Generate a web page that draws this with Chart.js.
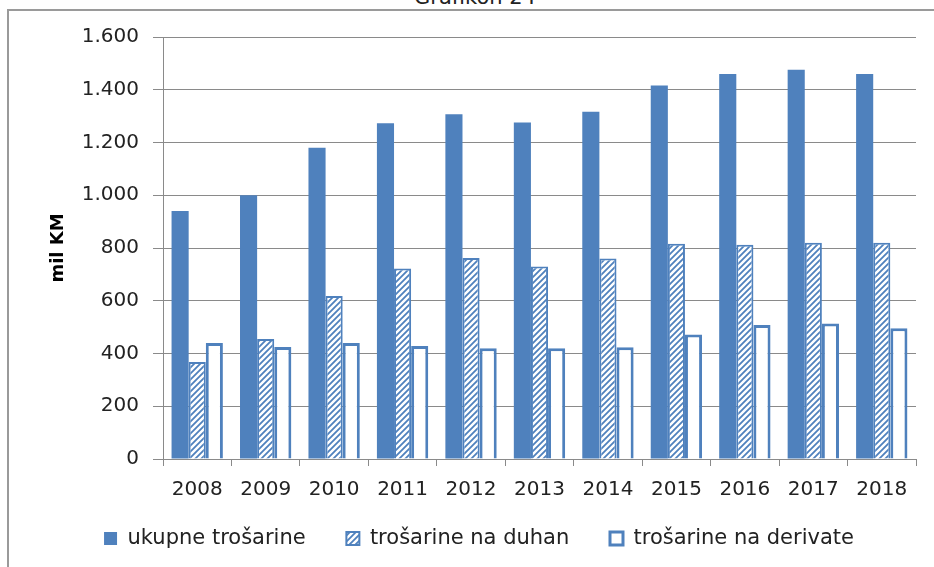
<!DOCTYPE html>
<html>
<head>
<meta charset="utf-8">
<script src="https://cdn.jsdelivr.net/npm/chart.js@4"></script>
<style>
  html, body { margin: 0; padding: 0; background: #fff; }
  #wrap { position: relative; width: 934px; height: 567px; overflow: hidden; }
  #naslov { position: absolute; left: 8px; width: 934px; top: -15px; text-align: center;
            font: 21px "DejaVu Sans", sans-serif; color: #222; }
  #okvir { position: absolute; left: 7px; top: 9px; width: 940px; height: 570px;
           border-top: 2px solid #9a9a9a; border-left: 2px solid #9a9a9a; }
  canvas { position: absolute; left: 0; top: 0; }
</style>
</head>
<body>
<div id="wrap">
  <div id="naslov">Grafikon 24</div>
  <div id="okvir"></div>
  <canvas id="grafikTrosarine" width="934" height="567"></canvas>
</div>
<script>
const godine = ["2008", "2009", "2010", "2011", "2012", "2013", "2014", "2015", "2016", "2017", "2018"];
const ukupneTrosarine = [940, 1000, 1180, 1273, 1307, 1276, 1317, 1416, 1460, 1476, 1460];
const trosarineDuhan = [368, 455, 618, 722, 762, 730, 760, 816, 812, 820, 820];
const trosarineDerivati = [440, 425, 440, 428, 420, 420, 424, 472, 508, 514, 496];
const yTicks = [0, 200, 400, 600, 800, 1000, 1200, 1400, 1600];

const plava = "#4f81bd";
const siva = "#8a8a8a";
const font = "'DejaVu Sans', sans-serif";

function napraviSrafuru(color) {
  const c = document.createElement("canvas");
  c.width = 6;
  c.height = 6;
  const g = c.getContext("2d");
  g.fillStyle = "#fff";
  g.fillRect(0, 0, 6, 6);
  g.strokeStyle = color;
  g.lineWidth = 1.8;
  g.beginPath();
  g.moveTo(0, 6); g.lineTo(6, 0);
  g.moveTo(-1, 1); g.lineTo(1, -1);
  g.moveTo(5, 7); g.lineTo(7, 5);
  g.stroke();
  return g.createPattern(c, "repeat");
}

function formatBroja(v) {
  return String(v).replace(/\B(?=(\d{3})+(?!\d))/g, ".");
}

const ctx = document.getElementById("grafikTrosarine");

new Chart(ctx, {
  type: "bar",
  data: {
    labels: godine,
    datasets: [
      {
        label: "ukupne trošarine",
        data: ukupneTrosarine,
        backgroundColor: plava,
        borderColor: plava,
        borderWidth: 0,
      },
      {
        label: "trošarine na duhan",
        data: trosarineDuhan,
        backgroundColor: napraviSrafuru(plava),
        borderColor: plava,
        borderWidth: 2,
      },
      {
        label: "trošarine na derivate",
        data: trosarineDerivati,
        backgroundColor: "#fff",
        borderColor: plava,
        borderWidth: 3,
      },
    ],
  },
  options: {
    responsive: false,
    animation: false,
    categoryPercentage: 0.75,
    barPercentage: 1.0,
    layout: {
      padding: { left: 42, right: 18, top: 37, bottom: 8 },
    },
    plugins: {
      tooltip: { enabled: false },
      legend: {
        position: "bottom",
        labels: {
          font: { family: font, size: 21 },
          color: "#222",
          boxWidth: 13,
          boxHeight: 13,
          padding: 14,
          generateLabels: (chart) => {
            const items = Chart.defaults.plugins.legend.labels.generateLabels(chart);
            // malo veci razmak izmedju stavki legende
            items.forEach((it, i) => {
              if (i < items.length - 1) it.text = it.text + "\u00a0\u00a0\u00a0\u00a0";
            });
            return items;
          },
        },
      },
    },
    scales: {
      x: {
        border: { color: siva },
        grid: {
          color: siva,
          drawOnChartArea: false,
          drawTicks: true,
          tickLength: 7,
          offset: true,
        },
        ticks: {
          font: { family: font, size: 20 },
          color: "#222",
          padding: 12,
          maxRotation: 0,
        },
      },
      y: {
        min: 0,
        max: 1600,
        afterFit: (s) => { s.width = 121; },
        afterBuildTicks: (s) => { s.ticks = yTicks.map((v) => ({ value: v })); },
        border: { color: siva },
        grid: {
          color: siva,
          tickLength: 10,
        },
        ticks: {
          font: { family: font, size: 20 },
          color: "#222",
          padding: 14,
          callback: (v) => formatBroja(v),
        },
        title: {
          display: true,
          text: "mil KM",
          font: { family: font, size: 18, weight: "bold" },
          color: "#000",
          padding: { top: 6, bottom: 0 },
        },
      },
    },
  },
});
</script>
</body>
</html>
